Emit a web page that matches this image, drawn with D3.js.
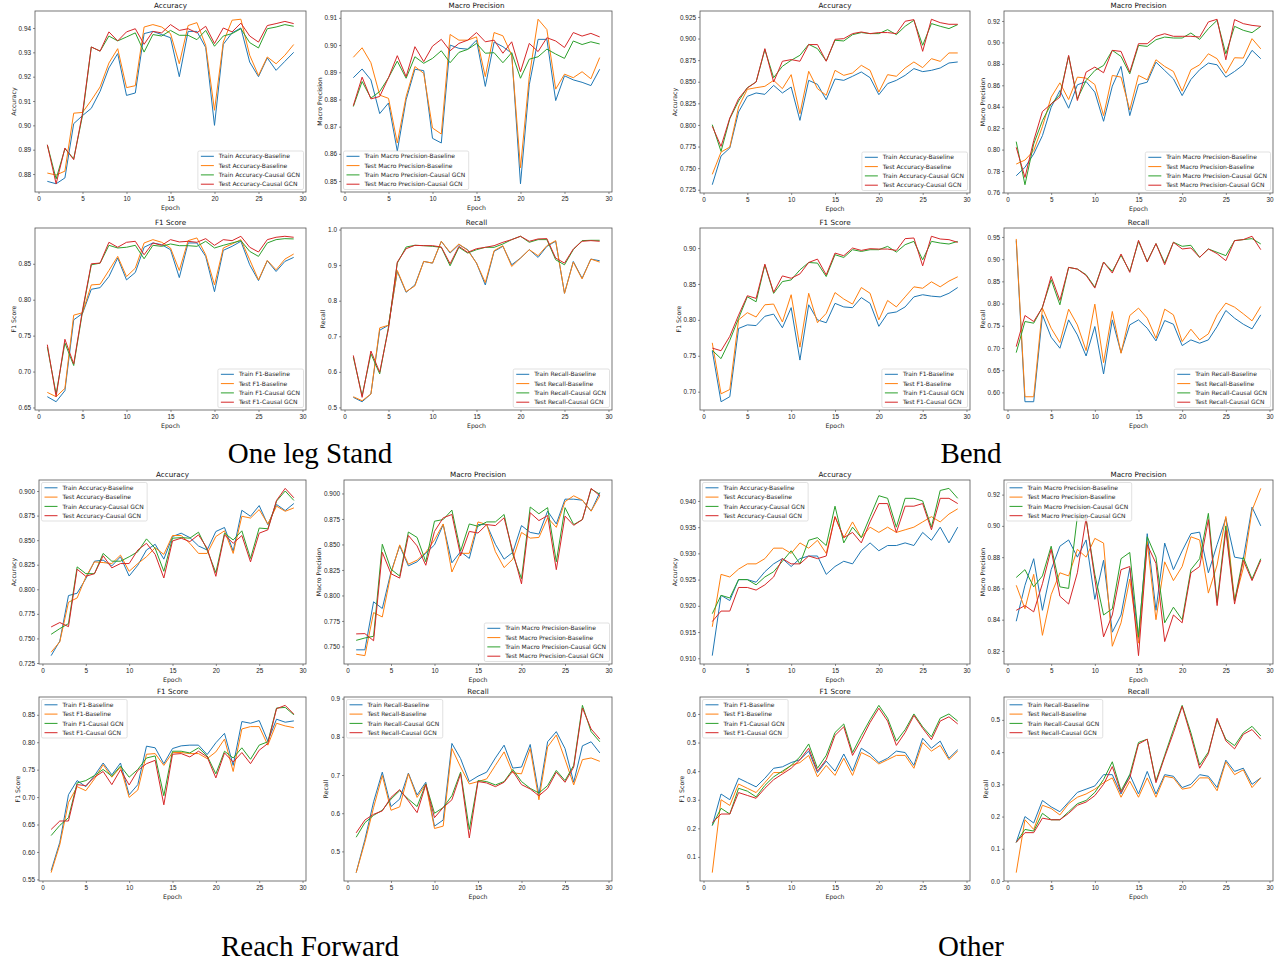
<!DOCTYPE html>
<html lang="en">
<head>
<meta charset="UTF-8">
<title>Baseline vs Causal GCN training curves</title>
<style>
  body { margin: 0; background: #fff; }
  svg { display: block; font-family: "DejaVu Sans", sans-serif; }
  .tick text { font-size: 6.4px; fill: #222; }
  .tick line { stroke: #444; stroke-width: 0.6; }
  .domain { display: none; }
  .title { font-size: 7.2px; fill: #111; text-anchor: middle; }
  .axlabel { font-size: 6.2px; fill: #222; text-anchor: middle; }
  .legend text { font-size: 6px; fill: #222; }
  .group-label { font-family: "Liberation Serif", "Times New Roman", serif; font-size: 29px; fill: #000; text-anchor: middle; }
</style>
</head>
<body>
<svg width="1278" height="963"></svg>
<script src="https://d3js.org/d3.v7.min.js"></script>
<script>
const epochs = [1,2,3,4,5,6,7,8,9,10,11,12,13,14,15,16,17,18,19,20,21,22,23,24,25,26,27,28,29];
const xTicks = [0, 5, 10, 15, 20, 25, 30];
const colors = ["#1f77b4", "#ff7f0e", "#2ca02c", "#d62728"];

// series order in every panel: Train-Baseline, Test-Baseline, Train-Causal GCN, Test-Causal GCN

// ---- One leg Stand ----
const standAcc = [
  [0.877,0.876,0.8784,0.9007,0.904,0.907,0.914,0.9236,0.9295,0.9123,0.9133,0.9377,0.9386,0.9373,0.936,0.920,0.9386,0.9386,0.932,0.900,0.9333,0.938,0.940,0.926,0.920,0.9277,0.9226,0.9263,0.930],
  [0.8804,0.8796,0.8812,0.905,0.9053,0.9103,0.9158,0.9256,0.9315,0.9155,0.9163,0.9404,0.9414,0.9404,0.9377,0.9253,0.941,0.9422,0.9329,0.9062,0.9342,0.9432,0.9436,0.9288,0.9205,0.9281,0.9253,0.9288,0.9332],
  [0.892,0.878,0.8904,0.8863,0.904,0.9322,0.9305,0.9367,0.9347,0.9363,0.938,0.9301,0.9373,0.9367,0.939,0.937,0.937,0.9352,0.939,0.9325,0.9367,0.9377,0.9397,0.934,0.9318,0.9397,0.9404,0.9414,0.9407],
  [0.892,0.876,0.8907,0.8859,0.905,0.9322,0.9305,0.9384,0.9347,0.9384,0.9397,0.9333,0.9386,0.938,0.9414,0.939,0.9397,0.938,0.9407,0.9336,0.94,0.9384,0.942,0.9367,0.9342,0.941,0.9418,0.9427,0.9418]
];
const standMP = [
  [0.888,0.8912,0.8872,0.8748,0.8787,0.861,0.8799,0.8911,0.8906,0.8657,0.864,0.900,0.8988,0.8985,0.9018,0.8848,0.9011,0.8994,0.897,0.849,0.8854,0.9021,0.9021,0.8796,0.8887,0.8872,0.8863,0.8851,0.8911],
  [0.8955,0.899,0.8935,0.8816,0.8804,0.864,0.8811,0.8921,0.8896,0.8695,0.8673,0.9039,0.9018,0.9018,0.903,0.8884,0.9046,0.9034,0.8963,0.8549,0.8884,0.9095,0.9057,0.8838,0.8893,0.888,0.8902,0.8876,0.8954],
  [0.8774,0.8866,0.8805,0.8829,0.888,0.8941,0.8878,0.8957,0.8933,0.8951,0.8979,0.8935,0.8973,0.8984,0.9006,0.897,0.8972,0.8935,0.8972,0.8878,0.8948,0.8957,0.8985,0.8967,0.8951,0.9015,0.9002,0.9012,0.9004],
  [0.8777,0.8882,0.8802,0.8811,0.888,0.8961,0.8884,0.8994,0.8939,0.8996,0.9021,0.8979,0.9006,0.9018,0.9046,0.9012,0.9018,0.897,0.9012,0.8902,0.9006,0.8976,0.9027,0.9015,0.8991,0.9046,0.9033,0.9043,0.903]
];
const standF1 = [
  [0.665,0.658,0.6734,0.772,0.7808,0.8145,0.8168,0.8322,0.858,0.8276,0.8379,0.873,0.879,0.8766,0.8696,0.8308,0.879,0.879,0.8603,0.8112,0.8687,0.8743,0.8813,0.8486,0.8266,0.8542,0.8393,0.8533,0.8589],
  [0.671,0.665,0.6766,0.7785,0.7818,0.8206,0.8215,0.8407,0.8603,0.8322,0.8439,0.879,0.8836,0.8799,0.872,0.8407,0.8822,0.886,0.8626,0.8206,0.872,0.8776,0.8836,0.8556,0.8276,0.8547,0.8416,0.8565,0.8636],
  [0.7341,0.6687,0.7397,0.7084,0.7832,0.8486,0.8509,0.8757,0.872,0.873,0.8757,0.857,0.8757,0.8743,0.8776,0.8752,0.8752,0.8743,0.8813,0.872,0.8757,0.879,0.8822,0.8673,0.8603,0.879,0.8836,0.885,0.8846],
  [0.7374,0.665,0.7449,0.7107,0.7855,0.85,0.851,0.8799,0.873,0.8799,0.8813,0.8626,0.879,0.8757,0.8836,0.8804,0.8813,0.8799,0.885,0.8757,0.8836,0.8822,0.8883,0.873,0.8664,0.8836,0.8869,0.8883,0.8869]
];
const standRec = [
  [0.5283,0.516,0.5377,0.717,0.7311,0.882,0.8236,0.8443,0.9104,0.9057,0.967,0.934,0.9575,0.9434,0.9057,0.8443,0.9387,0.9528,0.9009,0.9198,0.9434,0.9217,0.9528,0.967,0.8208,0.9104,0.8632,0.917,0.9123],
  [0.530,0.5189,0.5377,0.7236,0.7311,0.8849,0.8255,0.8415,0.9104,0.9057,0.967,0.9358,0.9594,0.9415,0.9057,0.8509,0.9406,0.9547,0.8962,0.9198,0.9434,0.9264,0.9547,0.9689,0.8208,0.9085,0.8613,0.917,0.9085],
  [0.6415,0.533,0.651,0.5943,0.7264,0.9057,0.9509,0.9557,0.9547,0.9528,0.95,0.8981,0.95,0.934,0.9434,0.95,0.95,0.9594,0.9717,0.9811,0.9642,0.9717,0.9717,0.9151,0.9009,0.9434,0.9689,0.9698,0.9698],
  [0.6462,0.5283,0.6585,0.599,0.7217,0.9085,0.9462,0.9557,0.9547,0.9547,0.9509,0.9038,0.9528,0.9358,0.9462,0.95,0.9547,0.9642,0.9717,0.9811,0.967,0.9736,0.9745,0.9198,0.9057,0.9453,0.967,0.9689,0.967]
];

// ---- Bend ----
const bendAcc = [
  [0.7308,0.764,0.7733,0.815,0.8331,0.837,0.8354,0.8458,0.837,0.8439,0.8053,0.8516,0.847,0.8292,0.8532,0.8516,0.8563,0.8613,0.8547,0.835,0.8478,0.8516,0.8574,0.8652,0.8617,0.8632,0.8659,0.8717,0.8729],
  [0.7428,0.7686,0.7744,0.8208,0.8412,0.8431,0.8447,0.8516,0.842,0.8582,0.813,0.8621,0.842,0.8343,0.8632,0.8574,0.8601,0.869,0.8632,0.8381,0.8582,0.8563,0.8659,0.8729,0.8663,0.8767,0.8736,0.8833,0.8833],
  [0.8003,0.7694,0.8072,0.8277,0.8431,0.8497,0.8872,0.8547,0.8679,0.8748,0.8806,0.8933,0.8883,0.874,0.898,0.8972,0.9045,0.9069,0.9057,0.9057,0.9103,0.9045,0.9142,0.9211,0.8922,0.9173,0.9142,0.9115,0.9161],
  [0.7984,0.7752,0.808,0.8304,0.8428,0.8497,0.8883,0.8497,0.8737,0.8756,0.8737,0.893,0.893,0.8737,0.8991,0.8999,0.9057,0.9076,0.9057,0.9069,0.9069,0.9057,0.92,0.9219,0.8852,0.9223,0.9184,0.9165,0.9165]
];
const bendMP = [
  [0.7756,0.7834,0.7959,0.813,0.8395,0.8551,0.8386,0.8604,0.8635,0.8536,0.8264,0.8592,0.8776,0.8317,0.8607,0.8629,0.8816,0.8738,0.866,0.8504,0.8654,0.8745,0.8807,0.8791,0.8676,0.8729,0.8791,0.8926,0.8848],
  [0.7865,0.7902,0.799,0.8214,0.8489,0.8623,0.8467,0.8676,0.8667,0.8607,0.8317,0.8692,0.8676,0.837,0.8692,0.8651,0.8838,0.8776,0.8729,0.8545,0.8745,0.8791,0.8894,0.8848,0.8713,0.8857,0.8854,0.9035,0.894],
  [0.8074,0.7672,0.8052,0.827,0.8426,0.8511,0.8872,0.8473,0.8645,0.8738,0.8785,0.8926,0.8869,0.8707,0.8972,0.8963,0.9025,0.905,0.9041,0.9041,0.9088,0.9028,0.9128,0.9206,0.8894,0.915,0.9113,0.9091,0.915],
  [0.8021,0.774,0.8083,0.8355,0.8426,0.8489,0.8879,0.8458,0.8723,0.877,0.8717,0.8926,0.8916,0.8723,0.8988,0.8988,0.9057,0.9081,0.9057,0.9057,0.9057,0.905,0.9191,0.9216,0.8838,0.9213,0.9175,0.9159,0.915]
];
const bendF1 = [
  [0.757,0.686,0.693,0.788,0.793,0.792,0.805,0.808,0.789,0.817,0.744,0.821,0.800,0.796,0.823,0.818,0.817,0.831,0.823,0.791,0.809,0.811,0.818,0.832,0.835,0.833,0.832,0.837,0.845],
  [0.768,0.697,0.703,0.800,0.810,0.804,0.821,0.822,0.797,0.835,0.762,0.837,0.796,0.809,0.838,0.829,0.822,0.845,0.837,0.800,0.827,0.818,0.832,0.846,0.844,0.853,0.846,0.854,0.860],
  [0.7575,0.746,0.7715,0.8019,0.8322,0.8252,0.8766,0.8369,0.8533,0.8556,0.8696,0.8799,0.879,0.8603,0.8907,0.8869,0.8977,0.8953,0.8977,0.8977,0.9023,0.8944,0.9047,0.9093,0.8836,0.9093,0.907,0.9056,0.9093],
  [0.7607,0.757,0.7771,0.8065,0.8336,0.8299,0.8776,0.8383,0.8612,0.8579,0.864,0.8799,0.8846,0.8626,0.893,0.8893,0.90,0.8967,0.8991,0.8986,0.8986,0.8967,0.9131,0.914,0.8752,0.9164,0.9126,0.9117,0.9079]
];
const bendRec = [
  [0.942,0.579,0.579,0.7746,0.7242,0.6994,0.7633,0.7295,0.682,0.7483,0.6414,0.7633,0.6896,0.752,0.7633,0.7445,0.7159,0.7618,0.7535,0.7054,0.7182,0.7107,0.7182,0.7483,0.7844,0.7671,0.7535,0.743,0.7746],
  [0.9455,0.5902,0.5902,0.7897,0.7445,0.7122,0.7874,0.752,0.6941,0.7987,0.667,0.7822,0.6881,0.7731,0.7897,0.7671,0.7219,0.7874,0.7746,0.7144,0.7423,0.7182,0.7317,0.7746,0.801,0.7919,0.7769,0.7611,0.7934],
  [0.6896,0.7596,0.7558,0.7919,0.8537,0.7972,0.8815,0.8777,0.865,0.8371,0.8935,0.8725,0.9086,0.8725,0.9402,0.8951,0.935,0.8913,0.938,0.9289,0.9312,0.9041,0.9229,0.9154,0.9079,0.9417,0.944,0.9462,0.9342],
  [0.7031,0.7731,0.7596,0.7912,0.8612,0.807,0.8815,0.8777,0.8634,0.8348,0.8935,0.8687,0.9116,0.8702,0.9425,0.8935,0.935,0.8875,0.938,0.9229,0.9252,0.9041,0.9229,0.9124,0.8966,0.9417,0.944,0.9515,0.9214]
];

// ---- Reach Forward ----
const reachAcc = [
  [0.7325,0.7473,0.7936,0.796,0.8108,0.8286,0.8297,0.8238,0.8331,0.8135,0.8245,0.84,0.8458,0.8307,0.8537,0.8571,0.8526,0.8441,0.84,0.8588,0.8629,0.8389,0.8804,0.8743,0.8852,0.8657,0.8863,0.8801,0.8873],
  [0.736,0.7466,0.7868,0.7912,0.8125,0.8279,0.8272,0.8262,0.8348,0.8183,0.8262,0.8331,0.8423,0.8355,0.8547,0.8547,0.8468,0.8365,0.8365,0.8537,0.8595,0.8365,0.8743,0.8725,0.8811,0.8664,0.8846,0.8794,0.8828],
  [0.7542,0.76,0.7651,0.8228,0.8159,0.8159,0.8365,0.8286,0.8286,0.8331,0.8382,0.8513,0.8417,0.8183,0.852,0.8526,0.852,0.8581,0.84,0.8169,0.8571,0.8502,0.8595,0.8314,0.8623,0.8616,0.8897,0.900,0.8904],
  [0.7617,0.7662,0.762,0.8204,0.8132,0.8159,0.8341,0.8218,0.8262,0.8262,0.84,0.8468,0.8355,0.8115,0.8492,0.852,0.8485,0.8554,0.8417,0.8132,0.8554,0.8468,0.8547,0.8279,0.8571,0.8605,0.8904,0.9027,0.8931]
];
const reachMP = [
  [0.7467,0.7467,0.7938,0.7872,0.823,0.8486,0.829,0.833,0.8413,0.8496,0.8695,0.832,0.8429,0.8363,0.8695,0.8695,0.8502,0.8356,0.8423,0.8685,0.8618,0.8602,0.8827,0.8701,0.8944,0.8944,0.8934,0.8827,0.901],
  [0.7424,0.741,0.7832,0.7789,0.8213,0.8496,0.8306,0.8346,0.8423,0.8545,0.8701,0.823,0.8413,0.8413,0.8721,0.8695,0.8429,0.8273,0.8356,0.8618,0.8562,0.8569,0.8761,0.8668,0.892,0.8977,0.8934,0.8827,0.8977],
  [0.756,0.7583,0.76,0.8502,0.8257,0.819,0.8622,0.8569,0.833,0.8728,0.8744,0.8837,0.8436,0.8701,0.8678,0.8721,0.8721,0.8794,0.8403,0.8164,0.8867,0.8801,0.8861,0.833,0.8861,0.8695,0.8744,0.9043,0.8993],
  [0.7623,0.7626,0.7556,0.8423,0.8213,0.817,0.8588,0.8486,0.8296,0.8628,0.8761,0.8794,0.8389,0.8628,0.8612,0.8695,0.8685,0.8761,0.8429,0.8114,0.8811,0.8734,0.8784,0.8253,0.8778,0.8688,0.8744,0.905,0.8977]
];
const reachF1 = [
  [0.566,0.6176,0.7043,0.7301,0.719,0.7393,0.7621,0.7406,0.7621,0.7043,0.7227,0.7928,0.7898,0.7609,0.7885,0.7934,0.7947,0.7947,0.7775,0.799,0.8162,0.7578,0.8377,0.8346,0.8395,0.802,0.842,0.8365,0.8389],
  [0.5623,0.6133,0.6902,0.719,0.7117,0.7332,0.759,0.7363,0.7547,0.6994,0.7129,0.7781,0.7793,0.7578,0.7812,0.7812,0.7793,0.7793,0.7701,0.7824,0.8057,0.7467,0.8242,0.8285,0.8285,0.7947,0.8346,0.8297,0.8266],
  [0.6299,0.6484,0.6625,0.7258,0.7301,0.7393,0.7504,0.7381,0.7566,0.7363,0.7504,0.7713,0.775,0.7025,0.7836,0.7836,0.7805,0.7898,0.775,0.7424,0.7836,0.7713,0.7898,0.7689,0.7947,0.8008,0.8623,0.8635,0.85],
  [0.641,0.6564,0.6564,0.7227,0.7209,0.7363,0.7467,0.7227,0.7498,0.7221,0.7486,0.7609,0.767,0.6859,0.7781,0.7793,0.7732,0.7836,0.7732,0.735,0.7805,0.7639,0.7812,0.7609,0.7855,0.7977,0.8611,0.8672,0.8512]
];
const reachRec = [
  [0.4444,0.5309,0.6298,0.7075,0.6174,0.6369,0.7049,0.6475,0.681,0.5662,0.5821,0.7826,0.7428,0.6828,0.6969,0.7075,0.7446,0.7781,0.7181,0.7208,0.7799,0.6483,0.787,0.8135,0.7693,0.681,0.7764,0.787,0.7578],
  [0.4444,0.5238,0.6148,0.6987,0.6077,0.6166,0.7031,0.6413,0.6766,0.56,0.5662,0.7693,0.7208,0.6766,0.6828,0.6898,0.7252,0.7605,0.7057,0.7031,0.7693,0.6351,0.7737,0.8046,0.7411,0.674,0.7402,0.7446,0.7358],
  [0.5371,0.5751,0.5945,0.6077,0.6369,0.6589,0.6369,0.6174,0.6766,0.5998,0.6148,0.6457,0.7075,0.5574,0.6854,0.6828,0.674,0.6828,0.7146,0.6828,0.6651,0.6528,0.6722,0.7119,0.6854,0.7252,0.8823,0.8135,0.787],
  [0.5486,0.5821,0.5971,0.606,0.6413,0.6616,0.6325,0.6015,0.6748,0.5883,0.6148,0.6351,0.7031,0.5353,0.6828,0.6792,0.6695,0.681,0.7102,0.6748,0.6634,0.6457,0.6651,0.7075,0.681,0.7208,0.8753,0.8205,0.794]
];

// ---- Other ----
const otherAcc = [
  [0.9105,0.922,0.921,0.925,0.925,0.9245,0.9265,0.928,0.929,0.9275,0.929,0.9295,0.9295,0.926,0.9275,0.9285,0.928,0.9305,0.932,0.9305,0.9315,0.9315,0.932,0.9315,0.934,0.9325,0.935,0.932,0.935],
  [0.916,0.926,0.9255,0.927,0.928,0.928,0.929,0.931,0.931,0.930,0.932,0.931,0.9325,0.930,0.937,0.933,0.936,0.933,0.935,0.934,0.935,0.934,0.9345,0.935,0.936,0.937,0.936,0.9375,0.9385],
  [0.9185,0.922,0.9215,0.925,0.925,0.924,0.9255,0.9265,0.9285,0.9305,0.928,0.9325,0.933,0.9315,0.939,0.932,0.935,0.933,0.937,0.941,0.9405,0.935,0.9405,0.9405,0.940,0.935,0.942,0.9424,0.9405],
  [0.917,0.919,0.919,0.9235,0.9235,0.923,0.924,0.9255,0.929,0.928,0.928,0.9295,0.929,0.9295,0.937,0.933,0.934,0.932,0.936,0.9395,0.9395,0.934,0.939,0.939,0.9395,0.9345,0.9405,0.9405,0.9395]
];
const otherMP = [
  [0.839,0.862,0.879,0.846,0.872,0.887,0.891,0.880,0.891,0.853,0.878,0.832,0.843,0.873,0.828,0.895,0.846,0.889,0.872,0.884,0.895,0.896,0.870,0.888,0.905,0.880,0.879,0.912,0.900],
  [0.862,0.847,0.869,0.830,0.856,0.870,0.868,0.885,0.880,0.892,0.889,0.823,0.838,0.866,0.825,0.890,0.840,0.877,0.865,0.874,0.893,0.891,0.857,0.875,0.906,0.852,0.873,0.910,0.924],
  [0.867,0.872,0.861,0.868,0.887,0.861,0.860,0.906,0.904,0.869,0.843,0.847,0.879,0.883,0.829,0.893,0.880,0.838,0.848,0.840,0.872,0.879,0.908,0.851,0.900,0.852,0.880,0.866,0.879],
  [0.846,0.849,0.845,0.863,0.885,0.855,0.850,0.870,0.905,0.866,0.829,0.843,0.872,0.874,0.817,0.888,0.876,0.826,0.843,0.838,0.870,0.874,0.904,0.849,0.897,0.850,0.878,0.865,0.878]
];
const otherF1 = [
  [0.21,0.32,0.30,0.375,0.36,0.345,0.375,0.41,0.415,0.43,0.44,0.47,0.395,0.435,0.40,0.46,0.40,0.48,0.46,0.43,0.445,0.47,0.465,0.42,0.515,0.48,0.505,0.445,0.475],
  [0.045,0.30,0.28,0.355,0.34,0.325,0.36,0.395,0.395,0.42,0.43,0.455,0.38,0.42,0.385,0.445,0.385,0.465,0.45,0.425,0.44,0.455,0.455,0.41,0.50,0.47,0.49,0.44,0.47],
  [0.21,0.27,0.25,0.34,0.33,0.31,0.35,0.38,0.40,0.42,0.45,0.495,0.41,0.455,0.535,0.565,0.465,0.525,0.58,0.63,0.585,0.505,0.545,0.60,0.555,0.52,0.585,0.60,0.575],
  [0.22,0.25,0.25,0.325,0.315,0.305,0.34,0.37,0.39,0.41,0.44,0.48,0.40,0.44,0.525,0.555,0.455,0.51,0.57,0.62,0.575,0.49,0.535,0.595,0.55,0.51,0.575,0.59,0.565]
];
const otherRec = [
  [0.12,0.20,0.18,0.25,0.23,0.215,0.245,0.275,0.285,0.295,0.33,0.33,0.27,0.33,0.27,0.34,0.27,0.33,0.325,0.29,0.30,0.33,0.325,0.29,0.375,0.34,0.35,0.30,0.32],
  [0.026,0.19,0.16,0.235,0.225,0.205,0.24,0.26,0.27,0.285,0.305,0.32,0.26,0.31,0.26,0.32,0.26,0.325,0.32,0.285,0.29,0.32,0.32,0.28,0.37,0.33,0.345,0.29,0.32],
  [0.12,0.16,0.155,0.21,0.19,0.19,0.215,0.24,0.25,0.275,0.315,0.37,0.28,0.33,0.43,0.44,0.31,0.39,0.47,0.545,0.46,0.36,0.40,0.50,0.44,0.42,0.46,0.48,0.45],
  [0.12,0.15,0.15,0.195,0.19,0.19,0.21,0.235,0.245,0.265,0.30,0.355,0.275,0.32,0.425,0.44,0.305,0.385,0.46,0.542,0.45,0.35,0.395,0.505,0.435,0.41,0.455,0.47,0.44]
];

// ---- y tick labels ----
const standAccTicks = ["0.88","0.89","0.90","0.91","0.92","0.93","0.94"];
const standMPTicks = ["0.85","0.86","0.87","0.88","0.89","0.90","0.91"];
const standF1Ticks = ["0.65","0.70","0.75","0.80","0.85"];
const standRecTicks = ["0.5","0.6","0.7","0.8","0.9","1.0"];
const bendAccTicks = ["0.725","0.750","0.775","0.800","0.825","0.850","0.875","0.900","0.925"];
const bendMPTicks = ["0.76","0.78","0.80","0.82","0.84","0.86","0.88","0.90","0.92"];
const bendF1Ticks = ["0.70","0.75","0.80","0.85","0.90"];
const bendRecTicks = ["0.60","0.65","0.70","0.75","0.80","0.85","0.90","0.95"];
const reachAccTicks = ["0.725","0.750","0.775","0.800","0.825","0.850","0.875","0.900"];
const reachMPTicks = ["0.750","0.775","0.800","0.825","0.850","0.875","0.900"];
const reachF1Ticks = ["0.55","0.60","0.65","0.70","0.75","0.80","0.85"];
const reachRecTicks = ["0.5","0.6","0.7","0.8","0.9"];
const otherAccTicks = ["0.910","0.915","0.920","0.925","0.930","0.935","0.940"];
const otherMPTicks = ["0.82","0.84","0.86","0.88","0.90","0.92"];
const otherF1Ticks = ["0.1","0.2","0.3","0.4","0.5","0.6"];
const otherRecTicks = ["0.0","0.1","0.2","0.3","0.4","0.5"];

// metric name -> title / y label / legend stem
const metrics = {
  acc: { title: "Accuracy", ylabel: "Accuracy", stem: "Accuracy" },
  mp:  { title: "Macro Precision", ylabel: "Macro Precision", stem: "Macro Precision" },
  f1:  { title: "F1 Score", ylabel: "F1 Score", stem: "F1" },
  rec: { title: "Recall", ylabel: "Recall", stem: "Recall" }
};
const suffixes = ["Train {m}-Baseline", "Test {m}-Baseline", "Train {m}-Causal GCN", "Test {m}-Causal GCN"];

const svg = d3.select("svg");

// panel frames [left, top, right, bottom] in page pixels
const quadrants = [
  { label: "One leg Stand", lx: 310, ly: 463, panels: [
    { m: "acc", data: standAcc, ticks: standAccTicks, box: [35, 11, 306, 192], loc: "lr" },
    { m: "mp",  data: standMP,  ticks: standMPTicks,  box: [341, 11, 612, 192], loc: "ll" },
    { m: "f1",  data: standF1,  ticks: standF1Ticks,  box: [35, 228, 306, 410], loc: "lr" },
    { m: "rec", data: standRec, ticks: standRecTicks, box: [341, 228, 612, 410], loc: "lr" } ] },
  { label: "Bend", lx: 971, ly: 463, panels: [
    { m: "acc", data: bendAcc, ticks: bendAccTicks, box: [700, 11, 970, 193], loc: "lr" },
    { m: "mp",  data: bendMP,  ticks: bendMPTicks,  box: [1004, 11, 1273, 193], loc: "lr" },
    { m: "f1",  data: bendF1,  ticks: bendF1Ticks,  box: [700, 228, 970, 410], loc: "lr" },
    { m: "rec", data: bendRec, ticks: bendRecTicks, box: [1004, 228, 1273, 410], loc: "lr" } ] },
  { label: "Reach Forward", lx: 310, ly: 956, panels: [
    { m: "acc", data: reachAcc, ticks: reachAccTicks, box: [39, 480, 306, 664], loc: "ul" },
    { m: "mp",  data: reachMP,  ticks: reachMPTicks,  box: [344, 480, 612, 664], loc: "lr" },
    { m: "f1",  data: reachF1,  ticks: reachF1Ticks,  box: [39, 697, 306, 881], loc: "ul" },
    { m: "rec", data: reachRec, ticks: reachRecTicks, box: [344, 697, 612, 881], loc: "ul" } ] },
  { label: "Other", lx: 971, ly: 956, panels: [
    { m: "acc", data: otherAcc, ticks: otherAccTicks, box: [700, 480, 970, 664], loc: "ul" },
    { m: "mp",  data: otherMP,  ticks: otherMPTicks,  box: [1004, 480, 1273, 664], loc: "ul" },
    { m: "f1",  data: otherF1,  ticks: otherF1Ticks,  box: [700, 697, 970, 881], loc: "ul" },
    { m: "rec", data: otherRec, ticks: otherRecTicks, box: [1004, 697, 1273, 881], loc: "ul" } ] }
];

function drawPanel(p) {
  const [x0, y0, x1, y1] = p.box;
  const meta = metrics[p.m];
  const all = p.data.flat();
  const lo = d3.min(all), hi = d3.max(all), pad = (hi - lo) * 0.05; // matplotlib-style margins

  const x = d3.scaleLinear().domain([-0.4, 30.4]).range([x0, x1]);
  const y = d3.scaleLinear().domain([lo - pad, hi + pad]).range([y1, y0]);
  const g = svg.append("g");

  const line = d3.line().x((d, j) => x(epochs[j])).y(d => y(d));
  p.data.forEach((s, i) => {
    g.append("path").datum(s)
      .attr("fill", "none")
      .attr("stroke", colors[i])
      .attr("stroke-width", 1)
      .attr("stroke-linejoin", "round")
      .attr("d", line);
  });

  g.append("rect")
    .attr("x", x0).attr("y", y0)
    .attr("width", x1 - x0).attr("height", y1 - y0)
    .attr("fill", "none").attr("stroke", "#555").attr("stroke-width", 0.8);

  g.append("g")
    .attr("transform", `translate(0,${y1})`)
    .call(d3.axisBottom(x).tickValues(xTicks).tickSize(2).tickPadding(2).tickFormat(d3.format("d")));

  const yAxis = g.append("g")
    .attr("transform", `translate(${x0},0)`)
    .call(d3.axisLeft(y).tickValues(p.ticks.map(Number)).tickSize(2).tickPadding(2)
      .tickFormat((d, i) => p.ticks[i]));

  let w = 0;
  yAxis.selectAll("text").each(function () { w = Math.max(w, this.getComputedTextLength()); });

  g.append("text").attr("class", "title")
    .attr("x", (x0 + x1) / 2).attr("y", y0 - 3.5).text(meta.title);
  g.append("text").attr("class", "axlabel")
    .attr("x", (x0 + x1) / 2).attr("y", y1 + 17.5).text("Epoch");
  g.append("text").attr("class", "axlabel")
    .attr("transform", `translate(${x0 - 4 - w - 3},${(y0 + y1) / 2}) rotate(-90)`)
    .text(meta.ylabel);

  // legend
  const labels = suffixes.map(s => s.replace("{m}", meta.stem));
  const rowH = 9.3, lineLen = 13, gap = 5, padL = 3, padR = 3.5, topOff = 5.3;
  const lg = g.append("g").attr("class", "legend");
  const box = lg.append("rect");
  let tw = 0;
  labels.forEach((t, i) => {
    const cy = topOff + i * rowH;
    lg.append("line")
      .attr("x1", padL).attr("x2", padL + lineLen)
      .attr("y1", cy).attr("y2", cy)
      .attr("stroke", colors[i]).attr("stroke-width", 1);
    const txt = lg.append("text")
      .attr("x", padL + lineLen + gap).attr("y", cy).attr("dy", "0.35em").text(t);
    tw = Math.max(tw, txt.node().getComputedTextLength());
  });
  const bw = padL + lineLen + gap + tw + padR;
  const bh = topOff * 2 + rowH * 3;
  box.attr("width", bw).attr("height", bh).attr("rx", 1.5)
    .attr("fill", "#fff").attr("fill-opacity", 0.8)
    .attr("stroke", "#ccc").attr("stroke-width", 0.6);
  let bx, by;
  if (p.loc === "lr") { bx = x1 - 2.5 - bw; by = y1 - 2.5 - bh; }
  else if (p.loc === "ll") { bx = x0 + 2.5; by = y1 - 2.5 - bh; }
  else { bx = x0 + 2.5; by = y0 + 2.5; }
  lg.attr("transform", `translate(${bx},${by})`);
}

quadrants.forEach(q => {
  q.panels.forEach(drawPanel);
  svg.append("text").attr("class", "group-label")
    .attr("x", q.lx).attr("y", q.ly).text(q.label);
});
</script>
</body>
</html>
